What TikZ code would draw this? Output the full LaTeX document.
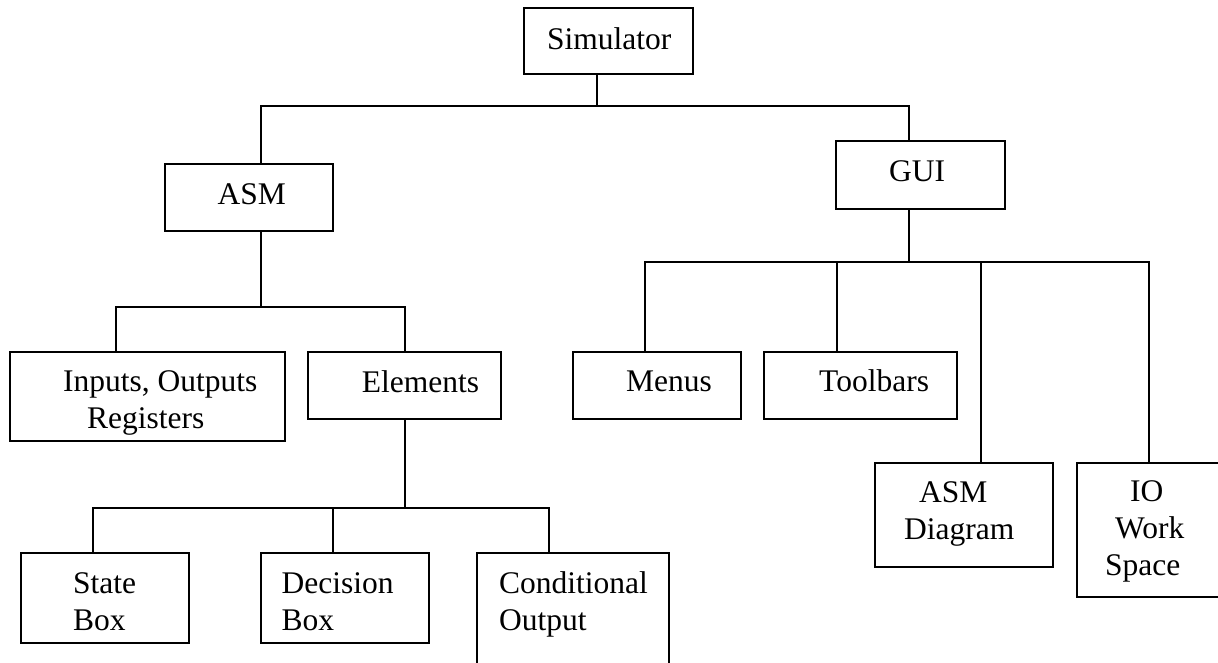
\documentclass[tikz,border=0pt]{standalone}
\usepackage{fontspec}
\setmainfont{Liberation Serif}
\usetikzlibrary{fit}
\begin{document}
\begin{tikzpicture}[x=1pt,y=-1pt,
  box/.style={draw, line width=2pt, inner sep=0pt},
  wire/.style={line width=1.9pt},
  lbl/.style={inner sep=0pt, anchor=base west, align=left, font=\fontsize{31.5}{37}\selectfont}]
\useasboundingbox (0,0) rectangle (1218,663);
\clip (0,0) rectangle (1218,663);
% boxes
\node[box, fit={(524,8)(693,74)}] (sim) {};
\node[box, fit={(165,164)(333,231)}] (asm) {};
\node[box, fit={(836,141)(1005,209)}] (gui) {};
\node[box, fit={(10,352)(285,441)}] (inp) {};
\node[box, fit={(308,352)(501,419)}] (elem) {};
\node[box, fit={(21,553)(189,643)}] (state) {};
\node[box, fit={(261,553)(429,643)}] (dec) {};
\node[box, fit={(477,553)(669,700)}] (cond) {};
\node[box, fit={(573,352)(741,419)}] (menus) {};
\node[box, fit={(764,352)(957,419)}] (tool) {};
\node[box, fit={(875,463)(1053,567)}] (asmd) {};
\node[box, fit={(1077,463)(1240,597)}] (io) {};
% texts (base anchor = baseline of the last line)
\node[lbl] (tsim) at (547,49.3) {Simulator};
\node[lbl] (tasm) at (217.5,205) {ASM};
\node[lbl] (tgui) at (889,181.7) {GUI};
\node[lbl] (tinp) at (63,428.7) {Inputs, Outputs\\\hspace*{24pt}Registers};
\node[lbl] (telem) at (361.7,392.3) {Elements};
\node[lbl] (tmenus) at (626,391.7) {Menus};
\node[lbl] (ttool) at (819,391.7) {Toolbars};
\node[lbl] (tstate) at (73,630) {State\\Box};
\node[lbl] (tdec) at (281.5,630) {Decision\\Box};
\node[lbl] (tcond) at (499,630) {Conditional\\Output};
\node[lbl] (tasmd) at (904,539.3) {\hspace*{14.8pt}ASM\\Diagram};
\node[lbl] (tio) at (1105,575.7) {\hspace*{25pt}IO\\\hspace*{10pt}Work\\Space};
% connectors
\coordinate (b1l) at (261,106);
\coordinate (b1r) at (909,106);
\coordinate (b1s) at (597,106);
\draw[wire] (sim.south -| b1s) -- (b1s);
\draw[wire] (asm.north -| b1l) -- (b1l) -- (b1r) -- (gui.north -| b1r);
\coordinate (b2l) at (116,307);
\coordinate (b2r) at (405,307);
\coordinate (b2s) at (261,307);
\draw[wire] (asm.south -| b2s) -- (b2s);
\draw[wire] (inp.north -| b2l) -- (b2l) -- (b2r) -- (elem.north -| b2r);
\coordinate (b3l) at (93,508);
\coordinate (b3m) at (333,508);
\coordinate (b3r) at (549,508);
\coordinate (b3s) at (405,508);
\draw[wire] (elem.south -| b3s) -- (b3s);
\draw[wire] (state.north -| b3l) -- (b3l) -- (b3r) -- (cond.north -| b3r);
\draw[wire] (b3m) -- (dec.north -| b3m);
\coordinate (b4l) at (645,262);
\coordinate (b4a) at (837,262);
\coordinate (b4b) at (981,262);
\coordinate (b4r) at (1149,262);
\coordinate (b4s) at (909,262);
\draw[wire] (gui.south -| b4s) -- (b4s);
\draw[wire] (menus.north -| b4l) -- (b4l) -- (b4r) -- (io.north -| b4r);
\draw[wire] (b4a) -- (tool.north -| b4a);
\draw[wire] (b4b) -- (asmd.north -| b4b);
\end{tikzpicture}
\end{document}
